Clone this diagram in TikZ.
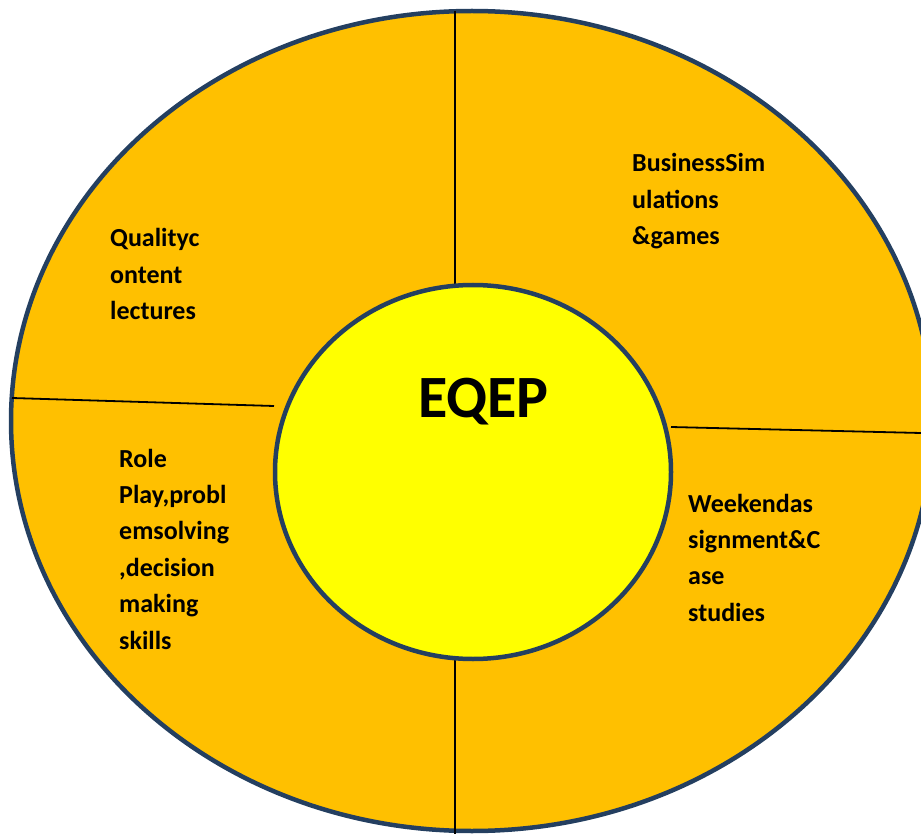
\documentclass[tikz,border=0pt]{standalone}
\usepackage{fontspec}
\setmainfont{Carlito}
\usetikzlibrary{shapes.geometric}
\definecolor{ringfill}{HTML}{FFC000}
\definecolor{ringline}{HTML}{243F60}
\definecolor{corefill}{HTML}{FFFF00}
\newcommand{\lines}[1]{\begin{tabular}[t]{@{}l@{}}#1\end{tabular}}
\begin{document}
\begin{tikzpicture}[x=1pt,y=-1pt,
  ringshape/.style={ellipse, draw=ringline, line width=4.5pt, inner sep=0pt},
  divider/.style={draw=black, line width=1.8pt},
  label/.style={anchor=base west, inner sep=0pt,
    font=\bfseries\fontsize{26}{36.4}\selectfont}]
\useasboundingbox (0,0) rectangle (921,834);
\node[ringshape, fill=ringfill, minimum width=922pt, minimum height=820pt] (outer) at (472,421) {};
\coordinate (topend) at (455,11);
\coordinate (botend) at (455,834);
\coordinate (leftend) at (12,398);
\coordinate (rightend) at (921,433);
\coordinate (innertop) at (455,285);
\coordinate (innerbot) at (455,658);
\coordinate (innerleft) at (274,406);
\coordinate (innerright) at (671,427);
\draw[divider] (topend) -- (innertop);
\draw[divider] (innerbot) -- (botend);
\draw[divider] (leftend) -- (innerleft);
\draw[divider] (innerright) -- (rightend);
\node[ringshape, fill=corefill, minimum width=396pt, minimum height=374pt] (inner) at (473,472) {};
\node[anchor=base west, inner sep=0pt, font=\bfseries\fontsize{60}{72}\selectfont] (eqep) at (418,417) {EQEP};
\node[label] (quality) at (110,247) {\lines{Qualityc\\ontent\\lectures}};
\node[label] (business) at (632,172) {\lines{BusinessSim\\ulations\\\&games}};
\node[label] (role) at (119,467) {\lines{Role\\Play,probl\\emsolving\\,decision\\making\\skills}};
\node[label] (weekend) at (688,512) {\lines{Weekendas\\signment\&C\\ase\\studies}};
\end{tikzpicture}
\end{document}
